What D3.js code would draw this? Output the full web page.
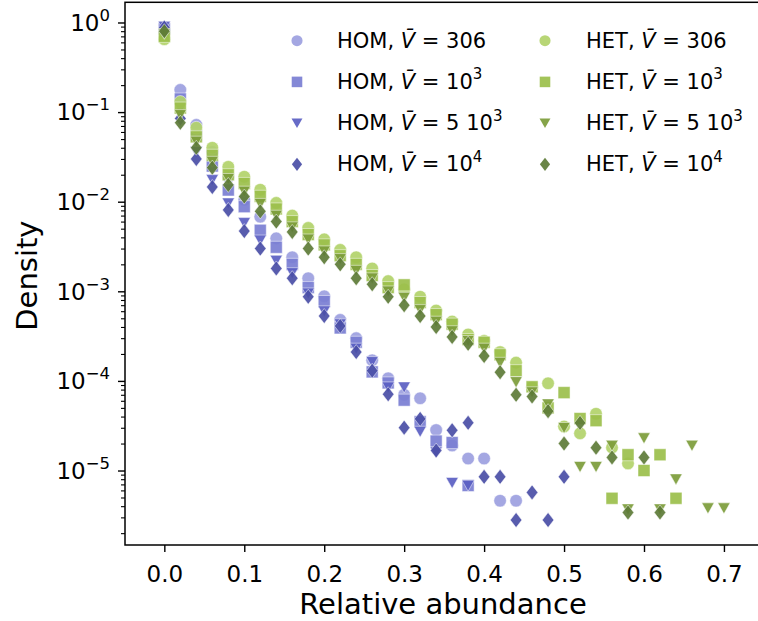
<!DOCTYPE html>
<html><head><meta charset="utf-8">
<script src="https://cdn.jsdelivr.net/npm/d3@7"></script>
<style>body{margin:0;background:#fff} text{font-family:"DejaVu Sans",sans-serif;fill:#000}</style>
</head><body><svg id="c" width="758" height="621"></svg>
<script>
const bins = [0.00,0.02,0.04,0.06,0.08,0.10,0.12,0.14,0.16,0.18,0.20,0.22,0.24,0.26,0.28,0.30,0.32,0.34,0.36,0.38,0.40,0.42,0.44,0.46,0.48,0.50,0.52,0.54,0.56,0.58,0.60,0.62,0.64,0.66,0.68,0.70];
const homV306 = [0.82,0.177,0.072,0.036,0.019,0.0105,0.0068,0.0039,0.0024,0.0014,0.00088,0.00048,0.00030,0.00017,0.000107,0.00007,0.000064,0.0000283,0.000019,0.0000136,0.0000136,0.0000046,0.0000046];
const homV1e3 = [0.85,0.14,0.055,0.025,0.0135,0.0088,0.0048,0.0031,0.0020,0.0011,0.00077,0.00039,0.00027,0.000126,0.000095,0.000061,0.000035,0.0000213,0.0000205,0.0000068];
const homV5e3 = [0.9,0.11,0.036,0.0175,0.0096,0.0058,0.0037,0.0022,0.0016,0.00095,0.00060,0.00043,0.00023,0.000163,0.000085,0.000085,0.0000272,0.000016,0.0000073,0.0000068];
const homV1e4 = [0.88,0.085,0.030,0.0146,0.0081,0.0047,0.0030,0.0018,0.0014,0.00087,0.00053,0.00041,0.00021,0.00013,0.000071,0.0000301,0.0000377,0.0000167,0.0000281,0.0000341,0.0000085,0.0000085,0.0000028,0.0000057,0.0000028,0.0000085];
const hetV306 = [0.65,0.13,0.067,0.040,0.0245,0.019,0.0136,0.0097,0.0070,0.0051,0.0038,0.0029,0.0024,0.0018,0.0013,0.00105,0.00087,0.00061,0.00046,0.00033,0.00028,0.00021,0.00016,0.000085,0.000094,0.000031,0.000026,0.000043,0.000018,0.000012];
const hetV1e3 = [0.70,0.111,0.053,0.033,0.020,0.016,0.0115,0.0083,0.0060,0.0043,0.0033,0.0025,0.0020,0.0015,0.0011,0.00118,0.00075,0.00055,0.00043,0.00029,0.00027,0.000196,0.00013,0.000086,0.000050,0.000074,0.000038,0.000036,0.0000049,0.000015,0.0000100,0.000015,0.0000049];
const hetV5e3 = [0.75,0.093,0.047,0.028,0.018,0.013,0.0095,0.0070,0.0052,0.0038,0.0028,0.0023,0.0017,0.0014,0.0010,0.00085,0.00062,0.00046,0.00036,0.00028,0.00023,0.00016,0.0000973,0.000075,0.000055,0.000030,0.000011,0.000011,0.000019,0.0000037,0.000023,0.0000037,0.0000080,0.000019,0.0000038,0.0000038];
const hetV1e4 = [0.80,0.076,0.040,0.024,0.0154,0.0114,0.0078,0.0060,0.0046,0.0030,0.0024,0.0020,0.0014,0.0012,0.00087,0.00070,0.00053,0.00040,0.00031,0.00026,0.00019,0.000125,0.000070,0.000067,0.000046,0.000020,0.000034,0.000018,0.000014,0.0000034,0.000014,0.0000034];

const seriesNames = ["HOM","HOM","HOM","HOM","HET","HET","HET","HET"];
const volumeLabels = [["306",null],["10","3"],["5 10","3"],["10","4"],["306",null],["10","3"],["5 10","3"],["10","4"]];
const seriesValues = [homV306,homV1e3,homV5e3,homV1e4,hetV306,hetV1e3,hetV5e3,hetV1e4];
const seriesColors = ["#9c9fe0","#7a7ed2","#5a5ec2","#4a4ea6","#b2d26a","#9bbf4b","#7c9c3a","#5d7b37"];
const seriesShapes = ["circle","square","triangle","diamond","circle","square","triangle","diamond"];
const xTicks = [0.0,0.1,0.2,0.3,0.4,0.5,0.6,0.7];
const yTicks = [1,1e-1,1e-2,1e-3,1e-4,1e-5];
const yTickExp = ["0","\u22121","\u22122","\u22123","\u22124","\u22125"];

const svg = d3.select("#c");
const L=125, R=760, T=2.3, B=545;
const x = d3.scaleLinear().domain([-0.0492, 0.7451]).range([L, R]);
const y = d3.scaleLog().domain([1.68, 1.475e-6]).range([T, B]);

function shapePath(s){
  if(s==="circle") return "M6.3,0A6.3,6.3 0 1,1 -6.3,0A6.3,6.3 0 1,1 6.3,0Z";
  if(s==="square") return "M-6,-6H6V6H-6Z";
  if(s==="triangle") return "M-6.2,-5.3H6.2L0,5.7Z";
  return "M0,-7.5L5.8,0L0,7.5L-5.8,0Z";
}

// minor ticks
const minor=[];
for(let e=-6;e<=0;e++) for(let m=2;m<=9;m++){const v=m*Math.pow(10,e); if(v>1.475e-6 && v<1.68) minor.push(v);}
svg.append("g").attr("transform",`translate(${L},0)`)
  .call(d3.axisLeft(y).tickValues(minor).tickSize(4).tickFormat(""))
  .call(g=>{g.select(".domain").remove(); g.selectAll("line").attr("stroke","#000").attr("stroke-width",1.1);});
svg.append("g").attr("transform",`translate(${L},0)`)
  .call(d3.axisLeft(y).tickValues(yTicks).tickSize(7).tickFormat(""))
  .call(g=>{g.select(".domain").remove(); g.selectAll("line").attr("stroke","#000").attr("stroke-width",1.4);});
yTicks.forEach((v,i)=>{
  const t = svg.append("text").attr("x",L-15).attr("y",y(v)+8.2).attr("text-anchor","end").style("font-size","23px");
  t.append("tspan").text("10");
  t.append("tspan").attr("dy",-10).style("font-size","16.5px").text(yTickExp[i]);
});
svg.append("g").attr("transform",`translate(0,${B})`)
  .call(d3.axisBottom(x).tickValues(xTicks).tickSize(7).tickPadding(13.5).tickFormat(d3.format(".1f")))
  .call(g=>{g.select(".domain").remove(); g.selectAll("line").attr("stroke","#000").attr("stroke-width",1.4);
    g.selectAll("text").style("font-size","23px").style("font-family","DejaVu Sans").attr("fill","#000");});

// spines
svg.append("rect").attr("x",L).attr("y",T).attr("width",R-L).attr("height",B-T)
  .attr("fill","none").attr("stroke","#000").attr("stroke-width",1.5);

// data
const plot = svg.append("g");
seriesValues.forEach((vals,si)=>{
  plot.append("g").selectAll("path").data(vals.map((v,i)=>[bins[i],v]).filter(d=>d[1]!=null))
    .join("path").attr("d",shapePath(seriesShapes[si]))
    .attr("transform",d=>`translate(${x(d[0])},${y(d[1])})`)
    .attr("fill",seriesColors[si]).attr("fill-opacity",0.92)
    .attr("stroke","#fff").attr("stroke-width",0.5);
});

// legend
seriesNames.forEach((n,i)=>{
  const col = i<4?0:1, row=i%4;
  const mx = col===0?297:545, tx = col===0?337:586, cy = 40.7+row*41.2;
  svg.append("path").attr("d",shapePath(seriesShapes[i])).attr("transform",`translate(${mx},${cy}) scale(0.88)`)
    .attr("fill",seriesColors[i]).attr("fill-opacity",0.92);
  const t = svg.append("text").attr("x",tx).attr("y",cy+7).style("font-size","21px");
  t.append("tspan").text(n+", ");
  t.append("tspan").style("font-style","italic").text("V\u0304");
  t.append("tspan").text(" = "+volumeLabels[i][0]);
  if(volumeLabels[i][1]) t.append("tspan").attr("dy",-9.5).style("font-size","15px").text(volumeLabels[i][1]);
});

// axis labels
svg.append("text").attr("x",443).attr("y",614).attr("text-anchor","middle").style("font-size","29px").text("Relative abundance");
svg.append("text").attr("transform",`translate(37,${(T+B)/2+2}) rotate(-90)`).attr("text-anchor","middle").style("font-size","29px").text("Density");
</script></body></html>
